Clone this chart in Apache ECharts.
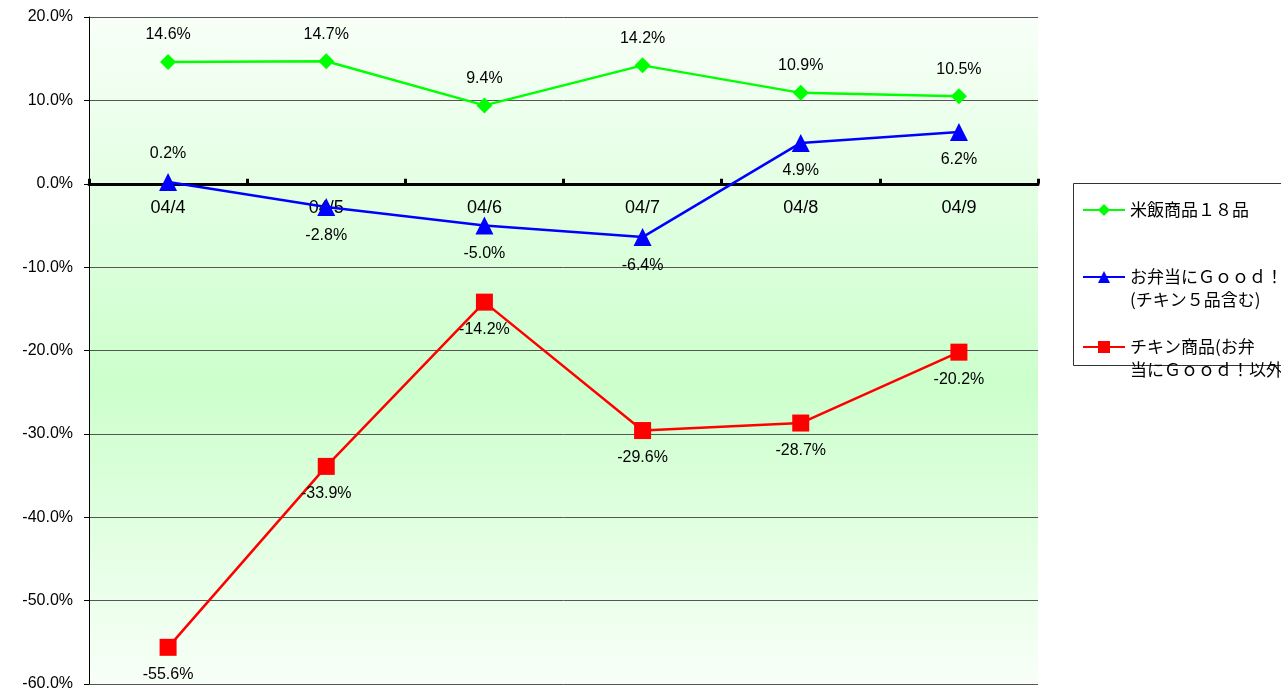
<!DOCTYPE html>
<html>
<head>
<meta charset="utf-8">
<script src="https://cdn.jsdelivr.net/npm/echarts@6/dist/echarts.min.js"></script>
<style>
  html, body { margin: 0; padding: 0; background: #fff; }
  #chart { width: 1281px; height: 693px; }
</style>
</head>
<body>
<div id="chart"></div>
<script>
// categories and values
const days = ['04/4', '04/5', '04/6', '04/7', '04/8', '04/9'];
const riceValues = [14.6, 14.7, 9.4, 14.2, 10.9, 10.5];
const bentoValues = [0.2, -2.8, -5.0, -6.4, 4.9, 6.2];
const chickenValues = [-55.6, -33.9, -14.2, -29.6, -28.7, -20.2];
const seriesNames = ['米飯商品１８品', 'お弁当にＧｏｏｄ！(チキン５品含む)', 'チキン商品(お弁当にＧｏｏｄ！以外)'];
const legendLines = [
  ['米飯商品１８品'],
  ['お弁当にＧｏｏｄ！', '(チキン５品含む)'],
  ['チキン商品(お弁', '当にＧｏｏｄ！以外']
];
// label position per point for the blue line
const bentoLabelPos = ['top', 'bottom', 'bottom', 'bottom', 'bottom', 'bottom'];

const yMin = -60, yMax = 20;
const gridTop = 17, gridBottom = 9, chartH = 693;

const chart = echarts.init(document.getElementById('chart'));

const pct = v => v.toFixed(1) + '%';
const labelStyle = {
  show: true,
  color: '#000',
  fontSize: 16,
  fontFamily: 'Liberation Sans',
  distance: 11,
  formatter: p => pct(p.value)
};

function legendFor(i, top) {
  return {
    data: [seriesNames[i]],
    left: 1082,
    top: top,
    padding: 0,
    itemWidth: 42,
    itemHeight: 15,
    selectedMode: false,
    formatter: () => (legendLines[i].length > 1 ? '\n' : '') + legendLines[i].join('\n'),
    textStyle: {
      fontSize: 17,
      lineHeight: 23,
      color: '#000',
      fontFamily: 'Noto Sans CJK JP'
    }
  };
}

// move the bottom category axis up to the zero line
const plotH = chartH - gridTop - gridBottom;
const zeroOffset = -plotH * (0 - yMin) / (yMax - yMin);

chart.setOption({
  animation: false,
  grid: {
    left: 89,
    right: 243,
    top: gridTop,
    bottom: gridBottom,
    outerBoundsMode: 'none',
    containLabel: false,
    show: true,
    borderWidth: 0,
    backgroundColor: {
      type: 'linear', x: 0, y: 0, x2: 0, y2: 1,
      colorStops: [
        { offset: 0, color: '#f8fff8' },
        { offset: 0.55, color: '#ccffcc' },
        { offset: 1, color: '#f8fff8' }
      ]
    }
  },
  graphic: [{
    type: 'rect',
    shape: { x: 1073.5, y: 183.5, width: 230, height: 182 },
    style: { fill: '#fff', stroke: '#333', lineWidth: 1 },
    z: -1
  }],
  legend: [legendFor(0, 198.5), legendFor(1, 242.5), legendFor(2, 312.5)],
  xAxis: {
    type: 'category',
    data: days,
    position: 'bottom',
    offset: zeroOffset,
    axisLine: { onZero: false, lineStyle: { color: '#000', width: 3 } },
    axisTick: { show: true, inside: true, length: 5, lineStyle: { color: '#000', width: 3 } },
    axisLabel: { color: '#000', fontSize: 18, fontFamily: 'Liberation Sans', margin: 15 },
    z: 3
  },
  yAxis: {
    type: 'value',
    min: yMin,
    max: yMax,
    interval: 10,
    axisLine: { show: true, lineStyle: { color: '#000', width: 1 } },
    axisTick: { show: true, length: 5, lineStyle: { color: '#000' } },
    axisLabel: {
      color: '#000', fontSize: 16, fontFamily: 'Liberation Sans', margin: 16,
      formatter: v => v.toFixed(1) + '%'
    },
    splitLine: { show: true, lineStyle: { color: '#555', width: 1 } }
  },
  series: [
    {
      name: seriesNames[0],
      type: 'line',
      data: riceValues,
      color: '#00ff00',
      symbol: 'diamond',
      symbolSize: 16,
      lineStyle: { width: 2.5 },
      label: Object.assign({}, labelStyle, { position: 'top' }),
      z: 4
    },
    {
      name: seriesNames[1],
      type: 'line',
      data: bentoValues.map((v, i) => ({ value: v, label: { position: bentoLabelPos[i] } })),
      color: '#0000ff',
      symbol: 'triangle',
      symbolSize: 18,
      lineStyle: { width: 2.5 },
      label: Object.assign({}, labelStyle, { position: 'bottom' }),
      z: 4
    },
    {
      name: seriesNames[2],
      type: 'line',
      data: chickenValues,
      color: '#ff0000',
      symbol: 'rect',
      symbolSize: 17,
      lineStyle: { width: 2.5 },
      label: Object.assign({}, labelStyle, { position: 'bottom' }),
      z: 4
    }
  ]
});
</script>
</body>
</html>
